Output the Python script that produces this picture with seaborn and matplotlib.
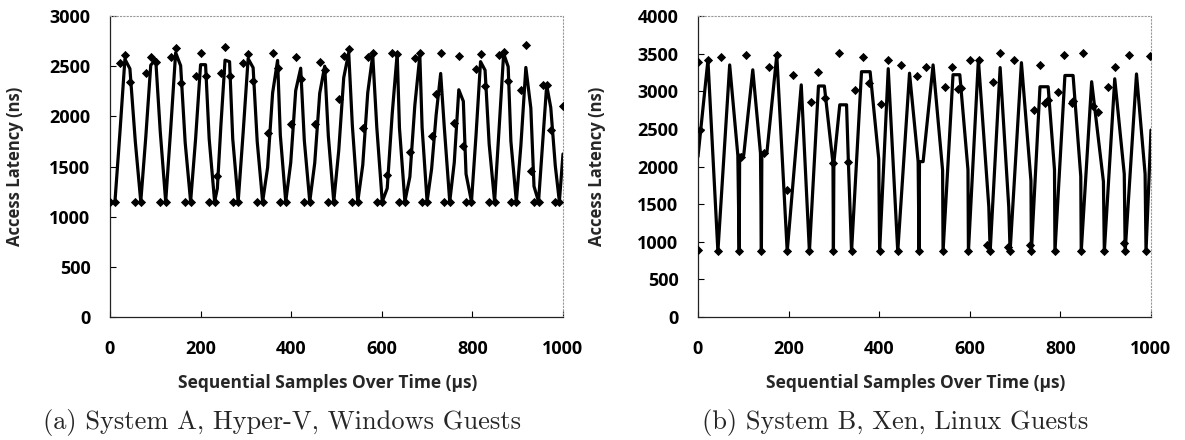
import numpy as np
import pandas as pd
import matplotlib
matplotlib.use("Agg")
import matplotlib.pyplot as plt
import seaborn as sns

# ============================
# Data
# ============================
# (a) System A, Hyper-V, Windows Guests -- raw samples
left_x = [0, 11, 22, 33, 44,
          56, 68, 79, 90, 101,
          111, 123, 134, 145, 156,
          166, 178, 189, 200, 211,
          219, 231, 237, 245, 254, 264,
          271, 283, 294, 305, 316,
          325, 337, 348, 359, 370,
          376, 388, 399, 410, 421,
          429, 441, 452, 463, 474,
          482, 494, 505, 516, 527,
          535, 547, 558, 569, 580,
          589, 601, 612, 623, 634,
          639, 651, 662, 673, 684,
          689, 700, 710, 720, 730,
          738, 750, 760, 770, 780,
          786, 798, 808, 818, 828,
          837, 849, 859, 869, 879,
          885, 897, 907, 918, 929,
          936, 946, 955, 964, 973,
          983, 992, 1000]
left_y = [1150, 1150, 2530, 2610, 2340,
          1150, 1150, 2430, 2590, 2545,
          1150, 1150, 2590, 2680, 2330,
          1150, 1150, 2400, 2630, 2400,
          1150, 1150, 1410, 2430, 2690, 2400,
          1150, 1150, 2530, 2620, 2350,
          1150, 1150, 1830, 2635, 2480,
          1150, 1150, 1925, 2590, 2370,
          1150, 1150, 1920, 2540, 2460,
          1150, 1150, 2170, 2600, 2670,
          1150, 1150, 1880, 2590, 2630,
          1150, 1150, 1415, 2635, 2620,
          1150, 1150, 1645, 2580, 2630,
          1150, 1150, 1805, 2225, 2630,
          1150, 1150, 1930, 2600, 1700,
          1150, 1150, 2470, 2620, 2300,
          1150, 1150, 2610, 2640, 2350,
          1150, 1150, 2265, 2710, 1455,
          1150, 1150, 2310, 2310, 1865,
          1150, 1150, 2100]

# (b) System B, Xen, Linux Guests -- raw samples
right_x = [0, 0, 5, 23, 44, 50, 91, 96, 105, 140, 145, 157, 174, 197, 197,
           209, 246, 249, 266, 280, 299, 299, 312, 332, 339, 347, 364, 378,
           401, 404, 420, 441, 449, 483, 488, 503, 541, 545, 561, 573, 580,
           597, 601, 620, 637, 645, 651, 667, 684, 689, 698, 733, 736, 742,
           755, 767, 772, 788, 794, 809, 825, 827, 846, 851, 871, 884, 897,
           904, 920, 941, 943, 952, 989, 998]
right_y = [3393, 890, 2485, 3415, 880, 3451, 880, 2130, 3482, 880, 2175, 3326,
           3482, 880, 1690, 3215, 880, 2861, 3260, 2907, 880, 2045, 3504, 2065,
           880, 3015, 3451, 3105, 880, 2830, 3415, 880, 3349, 3203, 880, 3326,
           880, 3060, 3326, 3026, 3040, 880, 3415, 3415, 960, 880, 3127, 3504,
           935, 880, 3415, 960, 880, 2751, 3349, 2848, 2880, 880, 2995, 3482,
           2848, 2875, 880, 3504, 2810, 2723, 880, 3053, 3322, 990, 880, 3482,
           880, 3468]

# (b) trendline vertices
trend_x = [0, 22, 44, 70, 88, 91, 92, 101, 121, 138, 140, 141, 152, 174, 197,
           228, 246, 266, 279, 298, 299, 300, 313, 328, 332, 339, 361, 380,
           399, 401, 420, 441, 467, 486, 488, 489, 497, 519, 540, 541, 563,
           578, 596, 597, 619, 642, 645, 667, 686, 689, 714, 735, 736, 755,
           773, 787, 788, 810, 828, 845, 846, 869, 895, 897, 920, 941, 943,
           968, 987, 989, 1000]
trend_y = [2130, 3415, 870, 3350, 2150, 870, 2150, 2150, 3285, 2175, 870, 2175,
           2175, 3480, 870, 3085, 870, 3070, 3070, 2045, 870, 2045, 2820, 2820,
           2065, 870, 3260, 3260, 2100, 870, 3300, 870, 3240, 2065, 870, 2065,
           2065, 3350, 1950, 870, 3220, 3220, 1955, 870, 3420, 1465, 870, 3315,
           1465, 870, 3380, 1810, 870, 3060, 3060, 1955, 870, 3210, 3210, 1870,
           870, 3127, 1800, 870, 3166, 1900, 870, 3230, 1900, 870, 2485]

left_yticks = [0, 500, 1000, 1500, 2000, 2500, 3000]
right_yticks = [0, 500, 1000, 1500, 2000, 2500, 3000, 3500, 4000]
xticks = [0, 200, 400, 600, 800, 1000]

x_label = "Sequential Samples Over Time (µs)"
y_label = "Access Latency (ns)"
captions = ["(a) System A, Hyper-V, Windows Guests",
            "(b) System B, Xen, Linux Guests"]

# ============================
# Style
# ============================
sns.set_theme(style="ticks")
plt.rcParams["font.family"] = ["Open Sans", "DejaVu Sans"]

left = pd.DataFrame({"x": left_x, "y": left_y})
# Excel-style 2 period moving average trendline
left["trend"] = left["y"].rolling(2).mean()

right = pd.DataFrame({"x": right_x, "y": right_y})
trend = pd.DataFrame({"x": trend_x, "y": trend_y})

fig = plt.figure(figsize=(11.85, 4.4), dpi=100)
ax1 = fig.add_axes([0.0928, 0.2795, 0.3823, 0.6841])
ax2 = fig.add_axes([0.589, 0.2795, 0.3823, 0.6841])

sns.lineplot(data=left.dropna(), x="x", y="trend", ax=ax1, color="black",
             linewidth=2.3, estimator=None, sort=False)
sns.scatterplot(data=left, x="x", y="y", ax=ax1, color="black", s=22,
                marker="D", edgecolor="black", linewidth=0, zorder=3)

sns.lineplot(data=trend, x="x", y="y", ax=ax2, color="black",
             linewidth=2.3, estimator=None, sort=False)
sns.scatterplot(data=right, x="x", y="y", ax=ax2, color="black", s=22,
                marker="D", edgecolor="black", linewidth=0, zorder=3)

for ax, yt in [(ax1, left_yticks), (ax2, right_yticks)]:
    ax.set_xlim(0, 1000)
    ax.set_ylim(0, yt[-1])
    ax.set_xticks(xticks)
    ax.set_yticks(yt)
    ax.set_xlabel("")
    ax.set_ylabel("")
    ax.tick_params(axis="both", direction="in", length=4, width=0.8,
                   colors="black", labelsize=13)
    ax.tick_params(axis="y", pad=14)
    ax.tick_params(axis="x", pad=16.5)
    for lab in ax.get_xticklabels() + ax.get_yticklabels():
        lab.set_fontweight("bold")
    for side in ["left", "bottom"]:
        ax.spines[side].set_color("#222222")
        ax.spines[side].set_linewidth(0.9)
    for side in ["top", "right"]:
        ax.spines[side].set_visible(True)
        ax.spines[side].set_color("#999999")
        ax.spines[side].set_linewidth(0.8)
        ax.spines[side].set_linestyle((0, (1, 2)))

# axis titles and captions
for yx, xl_x, cap_x, cap in [(0.0127, 0.2768, 0.238, captions[0]),
                             (0.5038, 0.773, 0.755, captions[1])]:
    fig.text(yx, 0.6216, y_label, rotation=90, ha="center", va="center",
             fontsize=12, fontweight="bold")
    fig.text(xl_x, 0.1295, x_label, ha="center", va="center",
             fontsize=12.5, fontweight="bold")
    fig.text(cap_x, 0.039, cap, ha="center", va="center",
             fontsize=19, family="cmr10")

plt.savefig("out.png", dpi=100)
